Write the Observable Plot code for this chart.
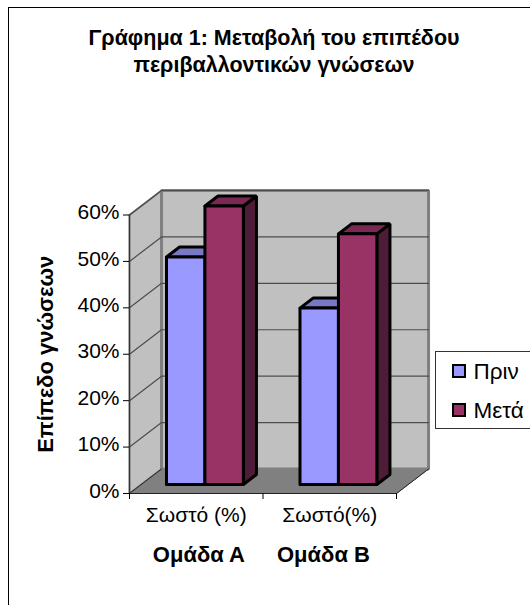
<!DOCTYPE html>
<html>
<head>
<meta charset="utf-8">
<script src="https://cdn.jsdelivr.net/npm/d3@7"></script>
<script src="https://cdn.jsdelivr.net/npm/@observablehq/plot@0.6"></script>
<style>
  html, body { margin: 0; padding: 0; background: #fff; overflow: hidden; }
  #page { position: relative; width: 530px; height: 605px; overflow: hidden; font-family: "Liberation Sans", Arial, sans-serif; color: #000; }
  #frame { position: absolute; left: 7.5px; top: 6.5px; width: 600px; height: 700px; border: 1.5px solid #000; box-sizing: border-box; }
  #title { position: absolute; left: 8px; width: 532px; top: 24.5px; text-align: center; font-weight: bold; font-size: 21.5px; line-height: 27px; white-space: nowrap; }
  #chart { position: absolute; left: 0; top: 0; }
  #chart svg { display: block; }
  #legend { position: absolute; left: 434.5px; top: 350.5px; width: 120px; height: 78px; border: 1px solid #333; background: #fff; box-sizing: border-box; font-size: 22.5px; }
  #legend div { position: absolute; left: 38px; line-height: 24px; }
  #legend i { position: absolute; left: -22px; top: 4.5px; width: 14px; height: 14px; border: 2px solid #000; box-sizing: border-box; }
</style>
</head>
<body>
<div id="page">
  <div id="frame"></div>
  <div id="title">Γράφημα 1: Μεταβολή του επιπέδου<br>περιβαλλοντικών γνώσεων</div>
  <div id="chart"></div>
  <div id="legend"></div>
</div>
<script>
// Survey results per group, in percent
const groups = ["Σωστό (%)", "Σωστό(%)"];
const teams = ["Ομάδα Α", "Ομάδα Β"];
const before = [49, 38];
const after = [60, 54];
const seriesNames = ["Πριν", "Μετά"];
const yTicks = [0, 10, 20, 30, 40, 50, 60];

// Face colours: front, top, side of each column
const palette = {
  "Πριν": {front: "#9999ff", top: "#7878c4", side: "#4d4d80"},
  "Μετά": {front: "#993366", top: "#7a2952", side: "#4f1c38"}
};

// Oblique projection of the chart box: depth runs 0 (front) to 1 (back wall)
const depthX = 0.24;
const depthY = 5.28;
const at = (u, v, d) => ({x: u + d * depthX, y: v + d * depthY});

const polygons = [];
function face(id, fill, stroke, strokeWidth, corners) {
  const closed = [...corners, corners[0]];
  for (const [u, v, d] of closed) polygons.push({id, fill, stroke, strokeWidth, ...at(u, v, d)});
}

// Chart box: left wall, back wall, floor
face("wall-left", "#c0c0c0", "#808080", 2, [[0, 0, 0], [0, 60, 0], [0, 60, 1], [0, 0, 1]]);
face("wall-back", "#c0c0c0", "#808080", 3, [[0, 0, 1], [0, 60, 1], [2, 60, 1], [2, 0, 1]]);
face("floor", "#808080", "#808080", 1, [[0, 0, 0], [0, 0, 1], [2, 0, 1], [2, 0, 0]]);

// Columns
const inset = 0.189, barWidth = 0.288, dFront = 0.367, dBack = 0.775;
function column(id, left, value, colors) {
  const right = left + barWidth;
  const s = {stroke: "#000", w: 3};
  face(id + "-side", colors.side, s.stroke, s.w, [[right, 0, dFront], [right, 0, dBack], [right, value, dBack], [right, value, dFront]]);
  face(id + "-top", colors.top, s.stroke, s.w, [[left, value, dFront], [left, value, dBack], [right, value, dBack], [right, value, dFront]]);
  face(id + "-front", colors.front, s.stroke, s.w, [[left, 0, dFront], [left, value, dFront], [right, value, dFront], [right, 0, dFront]]);
}
groups.forEach((g, i) => {
  column(`a${i}`, i + inset, before[i], palette["Πριν"]);
  column(`b${i}`, i + inset + barWidth, after[i], palette["Μετά"]);
});

// Gridlines run along the left wall and across the back wall
const gridLines = yTicks.filter(t => t > 0).flatMap(t => [
  {t, ...at(0, t, 0)}, {t, ...at(0, t, 1)}, {t, ...at(2, t, 1)}
]);
const floorEdges = [
  {k: "l", ...at(0, 0, 0)}, {k: "l", ...at(0, 0, 1)},
  {k: "f", ...at(0, 0, 0)}, {k: "f", ...at(2, 0, 0)},
  {k: "r", ...at(2, 0, 0)}, {k: "r", ...at(2, 0, 1)},
];

const polyMark = (rows) => Plot.line(rows, {
  x: "x", y: "y", z: "id", fill: "fill", stroke: "stroke", strokeWidth: d => d.strokeWidth,
  curve: "linear", strokeLinejoin: "miter"
});
const shell = polygons.filter(p => p.id.startsWith("wall") || p.id === "floor");
const bars = polygons.filter(p => !shell.includes(p));

const plot = Plot.plot({
  width: 530, height: 605,
  marginLeft: 129, marginRight: 134, marginTop: 214.5, marginBottom: 112,
  style: {background: "transparent", fontFamily: "Liberation Sans, Arial, sans-serif", overflow: "visible"},
  x: {domain: [0, 2], axis: null},
  y: {domain: [0, 60], axis: null},
  color: {type: "identity"},
  marks: [
    polyMark(shell.filter(p => p.id === "wall-left")),
    polyMark(shell.filter(p => p.id === "wall-back")),
    polyMark(shell.filter(p => p.id === "floor")),
    Plot.line(gridLines, {x: "x", y: "y", z: "t", stroke: "#4d4d4d", strokeWidth: 1.2}),
    Plot.line(floorEdges, {x: "x", y: "y", z: "k", stroke: "#222", strokeWidth: 1}),
    Plot.ruleX([0], {y1: 0, y2: 60, stroke: "#333", strokeWidth: 1.2}),
    ...groups.flatMap((g, i) =>
      ["a", "b"].flatMap(p => ["side", "top", "front"].map(f =>
        polyMark(bars.filter(b => b.id === `${p}${i}-${f}`))))
    ),
    Plot.axisY({ticks: yTicks, tickFormat: () => "", tickSize: 6, label: null}),
    Plot.axisY({ticks: yTicks, tickFormat: d => d + "%", tickSize: 0, tickPadding: 10, dy: -2.5, fontSize: 21, color: "#000", label: null}),
    Plot.axisX({ticks: [0, 1, 2], tickFormat: () => "", tickSize: 6, label: null}),
    Plot.axisX({ticks: [0.5, 1.5], tickFormat: d => groups[d - 0.5], tickSize: 0, tickPadding: 14, fontSize: 21, color: "#000", label: null}),
    Plot.text(teams, {x: (d, i) => [0.52, 1.453][i], y: 0, dy: 61, text: d => d, fontSize: 22, fontWeight: "bold", fill: "#000"}),
    Plot.text(["Επίπεδο γνώσεων"], {y: 30, frameAnchor: "left", textAnchor: "middle", dx: -84, rotate: -90, text: d => d, fontSize: 22, fontWeight: "bold", fill: "#000"})
  ]
});
document.getElementById("chart").append(plot);

// Series key
const legend = document.getElementById("legend");
seriesNames.forEach((name, i) => {
  const row = document.createElement("div");
  row.style.top = (i === 0 ? 8 : 47) + "px";
  const sw = document.createElement("i");
  sw.style.background = palette[name].front;
  row.append(sw, name);
  legend.append(row);
});
</script>
</body>
</html>
